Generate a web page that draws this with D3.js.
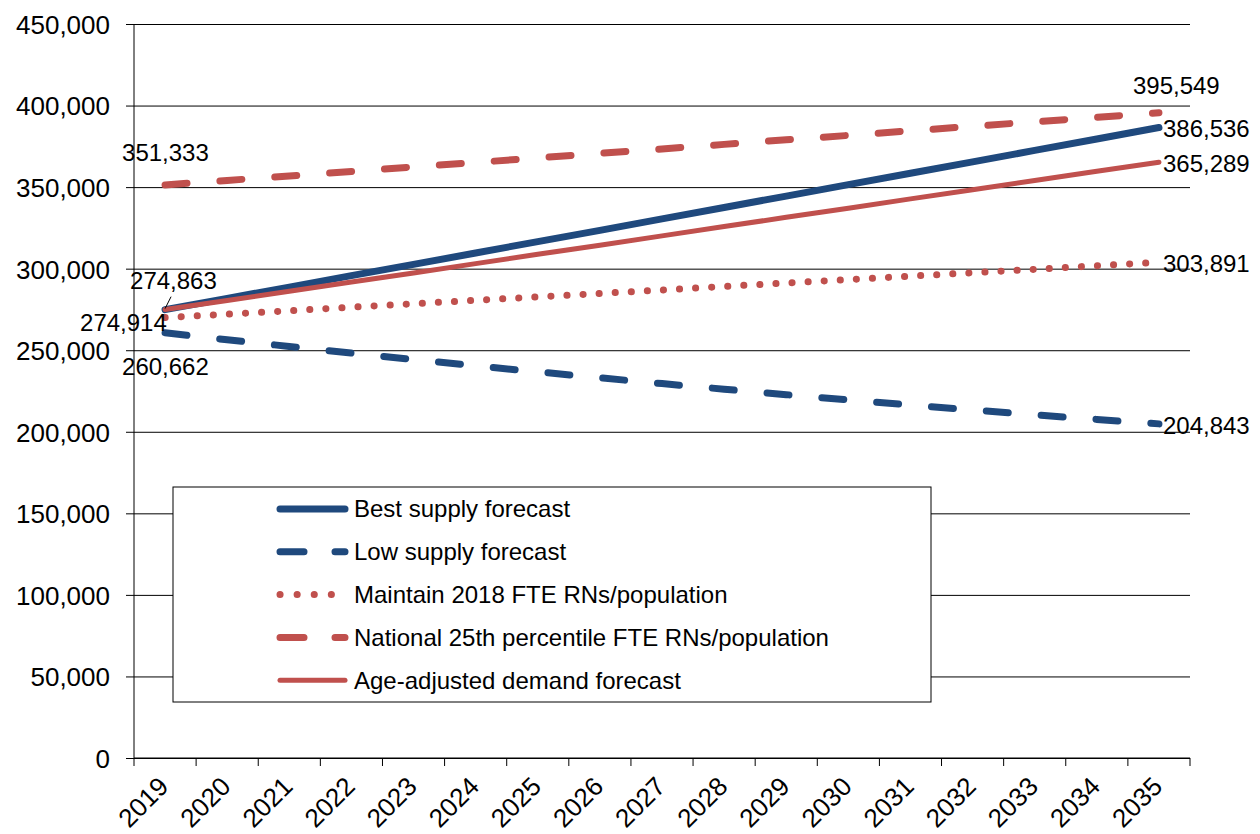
<!DOCTYPE html>
<html>
<head>
<meta charset="utf-8">
<script src="https://cdn.jsdelivr.net/npm/d3@7"></script>
<style>
  body { margin: 0; background: #fff; }
  text { font-family: "Liberation Sans", Arial, sans-serif; fill: #000; }
</style>
</head>
<body>
<svg id="chart"></svg>
<script>
// years and series
var years = ["2019","2020","2021","2022","2023","2024","2025","2026","2027","2028","2029","2030","2031","2032","2033","2034","2035"];
var bestSupply = [274863,281800,288700,295700,302600,309600,316600,323500,330500,337500,344500,351500,358500,365500,372500,379500,386536];
var lowSupply = [260662,256422,252282,248242,244302,240462,236722,233082,229542,226102,222762,219522,216382,213342,210402,207562,204843];
var maintain2018 = [270000,272100,274200,276400,278500,280600,282700,284800,286900,289100,291200,293300,295400,297500,299600,301800,303891];
var national25 = [351333,354100,356800,359600,362400,365100,367900,370700,373400,376200,379000,381700,384500,387300,390000,392800,395549];
var ageAdjusted = [274914,280500,286100,291800,297400,303100,308800,314400,320100,325800,331500,337100,342800,348400,354000,359700,365289];
var yTicks = [0,50000,100000,150000,200000,250000,300000,350000,400000,450000];

var blue = "#1f497d", red = "#c0504d";

var series = [
  { name: "Best supply forecast", values: bestSupply, color: blue, width: 7, dash: null, legDash: null },
  { name: "Low supply forecast", values: lowSupply, color: blue, width: 7, dash: "22,33", legDash: "24,31" },
  { name: "Maintain 2018 FTE RNs/population", values: maintain2018, color: red, width: 7, dash: "0.1,16", legDash: "0.1,17" },
  { name: "National 25th percentile FTE RNs/population", values: national25, color: red, width: 7, dash: "22,33", legDash: "24,31" },
  { name: "Age-adjusted demand forecast", values: ageAdjusted, color: red, width: 5, dash: null, legDash: null }
];

var W = 1260, H = 834;
var margin = { top: 24, right: 70, bottom: 76, left: 134 };
var width = W - margin.left - margin.right;
var height = H - margin.top - margin.bottom;

var svg = d3.select("#chart").attr("width", W).attr("height", H)
  .append("g")
  .attr("transform", "translate(" + margin.left + "," + margin.top + ")");

var x = d3.scaleBand().domain(years).range([0, width]);
var y = d3.scaleLinear().domain([0, 450000]).range([height, 0]);

// gridlines + y axis
var yAxis = svg.append("g")
  .call(d3.axisLeft(y).tickValues(yTicks).tickSize(-width - 8).tickFormat(d3.format(",")))
  .attr("transform", "translate(-8,0)");
yAxis.select(".domain").remove();
yAxis.selectAll(".tick line").attr("stroke", "#000").attr("stroke-width", 1);
yAxis.selectAll(".tick text").style("font-size", "26px").attr("x", -16).attr("dy", "0.36em");

svg.append("line").attr("x1", 0).attr("x2", 0).attr("y1", 0).attr("y2", height)
  .attr("stroke", "#000");

// x axis
var xAxis = svg.append("g").attr("transform", "translate(0," + height + ")");
xAxis.append("line").attr("x1", 0).attr("x2", width).attr("stroke", "#000");
var bounds = years.map(function(d) { return x(d); }).concat([width]);
xAxis.selectAll(".xt").data(bounds).enter().append("line")
  .attr("x1", function(d) { return d; }).attr("x2", function(d) { return d; })
  .attr("y1", 0).attr("y2", 8).attr("stroke", "#000");
xAxis.selectAll(".xl").data(years).enter().append("text")
  .attr("transform", function(d) { return "translate(" + (x(d) + x.bandwidth() / 2 + 5) + ",30) rotate(-45)"; })
  .style("text-anchor", "end")
  .style("font-size", "26px")
  .text(function(d) { return d; });

// lines
var line = d3.line()
  .x(function(d, i) { return x(years[i]) + x.bandwidth() / 2; })
  .y(function(d) { return y(d); });

svg.selectAll(".series").data(series).enter().append("path")
  .attr("d", function(d) { return line(d.values); })
  .attr("fill", "none")
  .attr("stroke", function(d) { return d.color; })
  .attr("stroke-width", function(d) { return d.width; })
  .attr("stroke-dasharray", function(d) { return d.dash; })
  .attr("stroke-linecap", "round");

// data labels
function px(i) { return x(years[i]) + x.bandwidth() / 2; }
var last = years.length - 1;
var labels = [
  { t: "351,333", x: px(0) - 43, y: y(national25[0]) - 24 },
  { t: "274,863", x: px(0) - 35, y: y(bestSupply[0]) - 21 },
  { t: "274,914", x: px(0) - 85, y: y(ageAdjusted[0]) + 21 },
  { t: "260,662", x: px(0) - 43, y: y(lowSupply[0]) + 42 },
  { t: "395,549", x: px(last) - 26, y: y(national25[last]) - 19 },
  { t: "386,536", x: px(last) + 4, y: y(bestSupply[last]) + 9 },
  { t: "365,289", x: px(last) + 4, y: y(ageAdjusted[last]) + 10 },
  { t: "303,891", x: px(last) + 4, y: y(maintain2018[last]) + 10 },
  { t: "204,843", x: px(last) + 4, y: y(lowSupply[last]) + 10 }
];
svg.selectAll(".dl").data(labels).enter().append("text")
  .attr("x", function(d) { return d.x; })
  .attr("y", function(d) { return d.y; })
  .style("font-size", "24px")
  .text(function(d) { return d.t; });

// leader line for 274,863
svg.append("line")
  .attr("x1", px(0) + 6).attr("y1", y(bestSupply[0]) - 13)
  .attr("x2", px(0)).attr("y2", y(bestSupply[0]) - 1)
  .attr("stroke", "#000").attr("stroke-width", 1);

// legend
var lg = svg.append("g").attr("transform", "translate(39,463)");
lg.append("rect").attr("width", 758).attr("height", 215)
  .attr("fill", "#fff").attr("stroke", "#000").attr("stroke-width", 1);
var rows = lg.selectAll(".lr").data(series).enter().append("g")
  .attr("transform", function(d, i) { return "translate(0," + (22 + i * 42.8) + ")"; });
rows.append("line")
  .attr("x1", 107).attr("x2", 172)
  .attr("stroke", function(d) { return d.color; })
  .attr("stroke-width", function(d) { return d.width; })
  .attr("stroke-dasharray", function(d) { return d.legDash; })
  .attr("stroke-linecap", "round");
rows.append("text")
  .attr("x", 181).attr("dy", "0.35em")
  .style("font-size", "24px")
  .text(function(d) { return d.name; });
</script>
</body>
</html>
